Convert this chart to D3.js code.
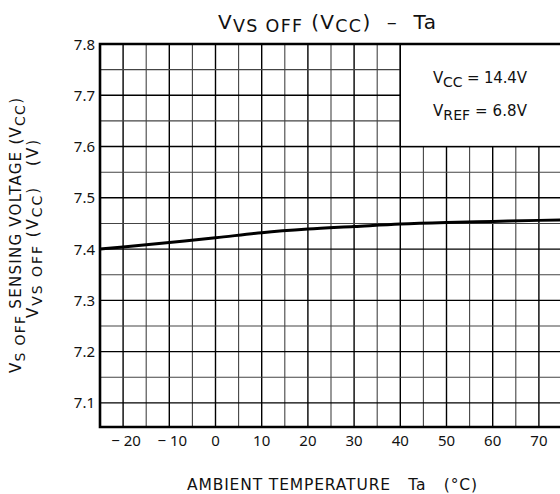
<!DOCTYPE html>
<html><head><meta charset="utf-8">
<script src="https://cdn.jsdelivr.net/npm/d3@7"></script>
<style>body{margin:0;background:#fff}svg{display:block}text{font-family:"Noto Sans","Open Sans",sans-serif;fill:#111}text.w{font-family:"DejaVu Sans",sans-serif}</style>
</head><body><svg id="c" width="560" height="494"></svg>
<script>
// Data
const temps = [-25, -20, -10, 0, 10, 20, 30, 40, 50, 60, 70, 78];
const vsOff = [7.400, 7.404, 7.413, 7.422, 7.432, 7.439, 7.444, 7.449, 7.452, 7.454, 7.456, 7.457];
const xTicks = [-20, -10, 0, 10, 20, 30, 40, 50, 60, 70];
const xGrid = d3.range(-20, 75, 5);
const yTicks = [7.1, 7.2, 7.3, 7.4, 7.5, 7.6, 7.7, 7.8];
const yGrid = d3.range(7.1, 7.801, 0.05).map(v => +v.toFixed(2));
const xDomain = [-25, 75];
const yDomain = [7.053, 7.8];
const legendLines = [["V", "CC", " = 14.4V"], ["V", "REF", " = 6.8V"]];
const legendBox = {t0: 40, v0: 7.6};

const svg = d3.select("#c");
const x = d3.scaleLinear().domain(xDomain).range([100, 562]);
const y = d3.scaleLinear().domain(yDomain).range([427, 44]);

// grid
const g = svg.append("g");
g.selectAll(".vg").data(xGrid).join("line")
  .attr("x1", d => x(d)).attr("x2", d => x(d)).attr("y1", y(yDomain[1])).attr("y2", y(yDomain[0]))
  .attr("stroke", d => d % 10 === 0 ? "#000" : "#444").attr("stroke-width", d => d % 10 === 0 ? 1.4 : 1.1);
g.selectAll(".hg").data(yGrid).join("line")
  .attr("x1", x(xDomain[0])).attr("x2", x(xDomain[1])).attr("y1", d => y(d)).attr("y2", d => y(d))
  .attr("stroke", d => Math.round(d * 100) % 10 === 0 ? "#000" : "#444").attr("stroke-width", d => Math.round(d * 100) % 10 === 0 ? 1.4 : 1.1);

// legend box
svg.append("rect").attr("x", x(legendBox.t0)).attr("y", y(yDomain[1]))
  .attr("width", x(xDomain[1]) - x(legendBox.t0)).attr("height", y(legendBox.v0) - y(yDomain[1]))
  .attr("fill", "#fff").attr("stroke", "#000").attr("stroke-width", 1.4);

// frame
svg.append("path").attr("d", `M${x(xDomain[1])},${y(yDomain[1])}H${x(xDomain[0])}V${y(yDomain[0])}H${x(xDomain[1])}`)
  .attr("fill", "none").attr("stroke", "#000").attr("stroke-width", 2.6);

// curve
const line = d3.line().x((d, i) => x(temps[i])).y(d => y(d)).curve(d3.curveMonotoneX);
svg.append("path").attr("d", line(vsOff)).attr("fill", "none").attr("stroke", "#000").attr("stroke-width", 3);

// axes labels
svg.append("g").selectAll("text").data(yTicks).join("text")
  .attr("x", 95).attr("y", d => y(d) + 5.5).attr("text-anchor", "end").attr("font-size", 15)
  .text(d => d.toFixed(1));
svg.append("g").selectAll("text").data(xTicks).join("text")
  .attr("x", d => x(d) + (d < 0 ? 3 : 0)).attr("y", 446).attr("text-anchor", "middle").attr("font-size", 15)
  .text(d => d < 0 ? "\u2212 " + Math.abs(d) : String(d));

svg.append("text").attr("class", "w").attr("x", 187).attr("y", 490).attr("font-size", 15.5)
  .attr("textLength", 290).attr("lengthAdjust", "spacing")
  .attr("xml:space", "preserve").text("AMBIENT TEMPERATURE   Ta   (\u00B0C)");

// title
const t = svg.append("text").attr("class", "w").attr("x", 218).attr("y", 29).attr("font-size", 20)
  .attr("textLength", 218).attr("lengthAdjust", "spacing").attr("xml:space", "preserve");
t.append("tspan").text("V");
t.append("tspan").attr("font-size", 17.5).attr("dy", 3).text("VS OFF");
t.append("tspan").attr("dy", -3).text(" (V");
t.append("tspan").attr("font-size", 17.5).attr("dy", 3).text("CC");
t.append("tspan").attr("dy", -3).text(")  \u2013  Ta");

// legend text
legendLines.forEach((l, i) => {
  const tt = svg.append("text").attr("class", "w").attr("x", 433).attr("y", 83 + i * 33).attr("font-size", 15)
    .attr("textLength", 94).attr("lengthAdjust", "spacing");
  tt.append("tspan").text(l[0]);
  tt.append("tspan").attr("font-size", 14).attr("dy", 4).text(l[1]);
  tt.append("tspan").attr("dy", -4).text(l[2]);
});

// y title
const yt1 = svg.append("text").attr("class", "w").attr("transform", "translate(21,373) rotate(-90)").attr("font-size", 15)
  .attr("textLength", 275).attr("lengthAdjust", "spacing");
yt1.append("tspan").text("V");
yt1.append("tspan").attr("font-size", 14).attr("dy", 4).text("S OFF");
yt1.append("tspan").attr("dy", -4).text(" SENSING VOLTAGE (V");
yt1.append("tspan").attr("font-size", 14).attr("dy", 4).text("CC");
yt1.append("tspan").attr("dy", -4).text(")");
const yt2 = svg.append("text").attr("class", "w").attr("transform", "translate(38,318) rotate(-90)").attr("font-size", 15)
  .attr("textLength", 178).attr("lengthAdjust", "spacing").attr("xml:space", "preserve");
yt2.append("tspan").text("V");
yt2.append("tspan").attr("font-size", 14).attr("dy", 4).text("VS OFF");
yt2.append("tspan").attr("dy", -4).text(" (V");
yt2.append("tspan").attr("font-size", 14).attr("dy", 4).text("CC");
yt2.append("tspan").attr("dy", -4).text(")   (V)");
</script></body></html>
